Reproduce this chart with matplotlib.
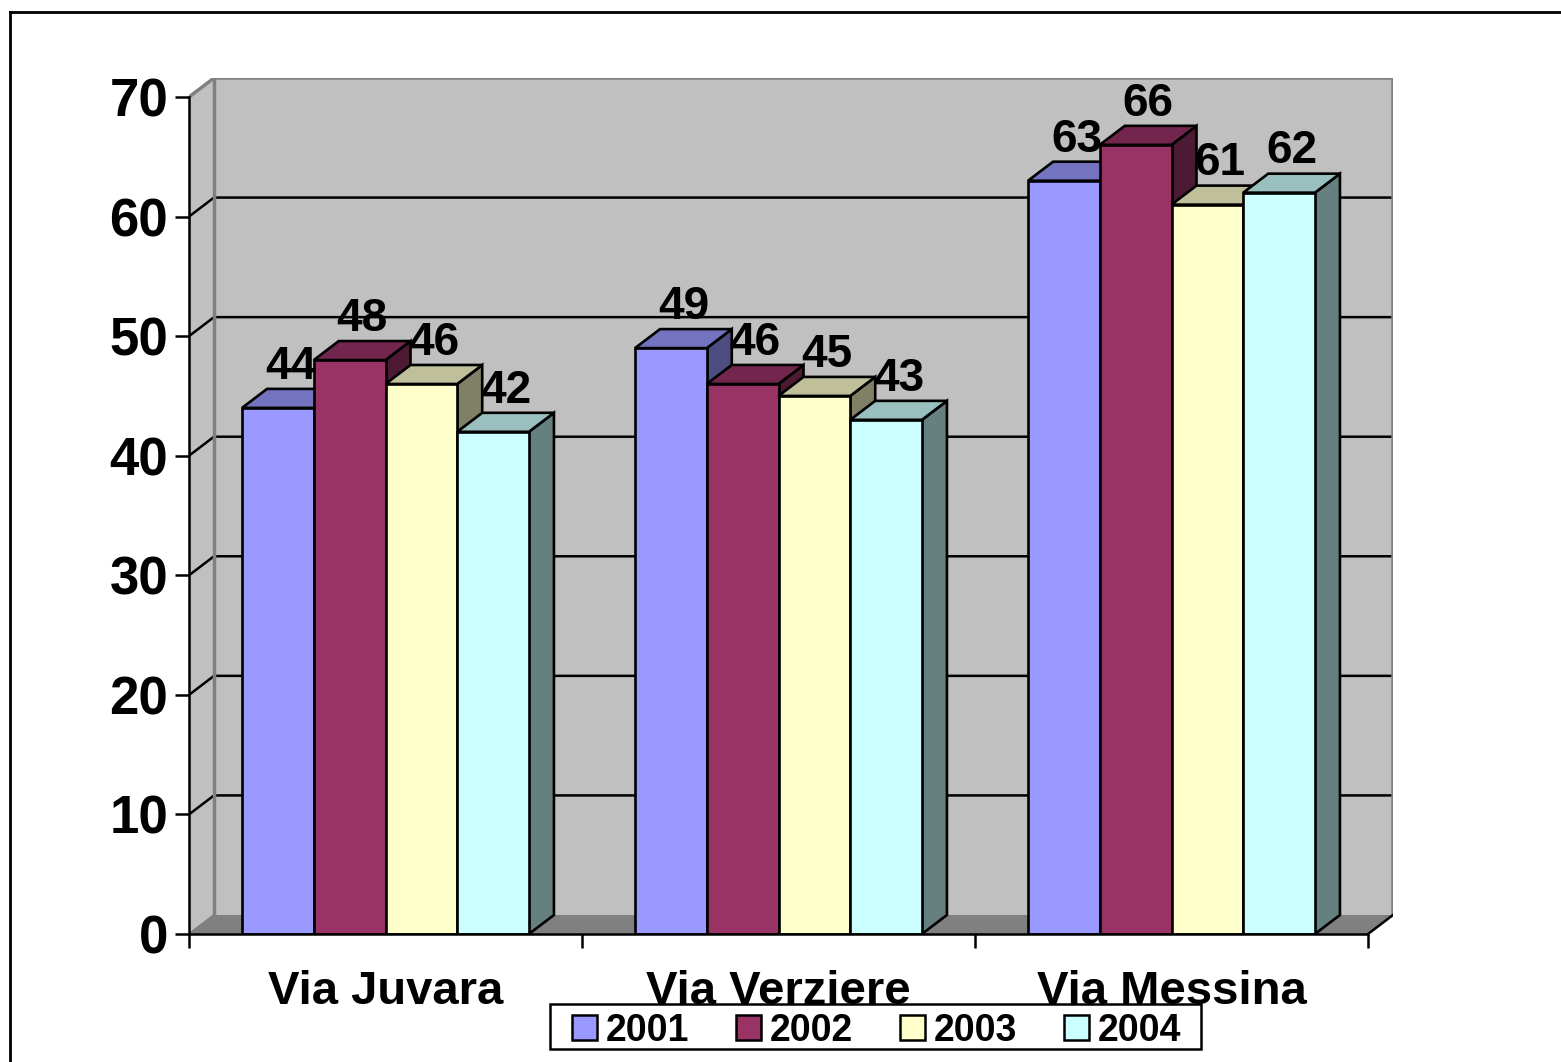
import matplotlib
matplotlib.use("Agg")
import matplotlib.pyplot as plt
from matplotlib.patches import Polygon, Patch, Rectangle
from matplotlib.lines import Line2D
from matplotlib.colors import to_rgb

plt.rcParams['font.family'] = ['Liberation Sans', 'DejaVu Sans']
plt.rcParams['font.weight'] = 'bold'

# data
categories = ['Via Juvara', 'Via Verziere', 'Via Messina']
years = ['2001', '2002', '2003', '2004']
v2001 = [44, 49, 63]
v2002 = [48, 46, 66]
v2003 = [46, 45, 61]
v2004 = [42, 43, 62]
series = [v2001, v2002, v2003, v2004]
colors = ['#9999FF', '#993366', '#FFFFCC', '#CCFFFF']

ymax = 70
# depth of the 3d box, in data units
DX = 25 / 393.0
DY = 19 / 11.957
BAR_W = 0.1825

W, H = 1561, 1062
fig = plt.figure(figsize=(W / 100, H / 100), dpi=100)
ax = fig.add_axes([189 / W, 128 / H, 1204 / W, 856 / H])
ax.set_xlim(0, len(categories) + DX)
ax.set_ylim(0, ymax + DY)
ax.patch.set_visible(False)

ncat = len(categories)
wall = '#C0C0C0'
edge = '#808080'

# side wall, back wall and floor
ax.add_patch(Polygon([(0, 0), (DX, DY), (DX, ymax + DY), (0, ymax)],
                     closed=True, facecolor=wall, edgecolor='none', zorder=0))
ax.add_patch(Polygon([(DX, DY), (ncat + DX, DY), (ncat + DX, ymax + DY), (DX, ymax + DY)],
                     closed=True, facecolor=wall, edgecolor='none', zorder=0))
ax.add_patch(Polygon([(0, 0), (ncat, 0), (ncat + DX, DY), (DX, DY)],
                     closed=True, facecolor='#808080', edgecolor='none', zorder=0))

# gridlines on the walls
for v in range(10, ymax, 10):
    ax.plot([0, DX, ncat + DX], [v, v + DY, v + DY], color='black', lw=1.8, zorder=1)

# wall edges
ax.plot([0, DX, ncat + DX, ncat + DX], [ymax, ymax + DY, ymax + DY, DY], color=edge, lw=2.5, zorder=1)
ax.plot([DX, DX], [DY, ymax + DY], color=edge, lw=2.5, zorder=1)
ax.plot([0, DX], [0, DY], color=edge, lw=1.5, zorder=1)
ax.plot([ncat, ncat + DX], [0, DY], color='black', lw=1.8, zorder=1)


def shade(c, f):
    r, g, b = to_rgb(c)
    return (r * f, g * f, b * f)


z = 2
for i in range(ncat):
    for j, vals in enumerate(series):
        v = vals[i]
        x0 = i + 0.5 + (j - 2) * BAR_W
        x1 = x0 + BAR_W
        c = colors[j]
        kw = dict(closed=True, edgecolor='black', lw=1.9, joinstyle='miter', zorder=z)
        # side face
        ax.add_patch(Polygon([(x1, 0), (x1 + DX, DY), (x1 + DX, v + DY), (x1, v)],
                             facecolor=shade(c, 0.5), **kw))
        # top face
        ax.add_patch(Polygon([(x0, v), (x1, v), (x1 + DX, v + DY), (x0 + DX, v + DY)],
                             facecolor=shade(c, 0.75), **kw))
        # front face
        ax.add_patch(Polygon([(x0, 0), (x1, 0), (x1, v), (x0, v)],
                             facecolor=c, **kw))
        z += 1
        ax.text((x0 + x1) / 2 + DX / 2, v + DY + 0.85, str(v), ha='center', va='baseline',
                fontsize=33, fontweight='bold', zorder=100)

# axes
for s in ['top', 'right']:
    ax.spines[s].set_visible(False)
ax.spines['left'].set_bounds(0, ymax)
ax.spines['bottom'].set_bounds(0, ncat)
ax.spines['left'].set_linewidth(1.8)
ax.spines['bottom'].set_linewidth(1.8)
ax.spines['left'].set_zorder(50)
ax.spines['bottom'].set_zorder(50)

ax.set_yticks(range(0, ymax + 1, 10))
ax.tick_params(axis='y', length=10, width=1.8, pad=5, labelsize=38)
for t in ax.get_yticklabels():
    t.set_fontweight('bold')

ax.set_xticks(range(ncat + 1))
ax.set_xticklabels([])
ax.set_xticks([i + 0.5 for i in range(ncat)], minor=True)
ax.set_xticklabels(categories, minor=True, fontsize=34, fontweight='bold')
ax.tick_params(axis='x', which='major', length=10, width=1.8)
ax.tick_params(axis='x', which='minor', length=0, pad=26)

# legend box and entries
fig.add_artist(Rectangle((550 / W, 1 - 1049 / H), 651 / W, 45 / H, transform=fig.transFigure,
                         facecolor='white', edgecolor='black', lw=1.8, zorder=4))
handles = [Patch(facecolor=c, edgecolor='black', lw=1.8) for c in colors]
leg = fig.legend(handles, years, loc='center', bbox_to_anchor=(877 / W, 1 - 1031 / H),
                 ncol=4, prop={'size': 27, 'weight': 'bold'}, frameon=False,
                 handlelength=0.65, handleheight=0.65,
                 handletextpad=0.25, columnspacing=1.25, borderpad=0.1, borderaxespad=0)
leg.set_zorder(5)

# outer frame
fig.add_artist(Line2D([10 / W, 1], [1 - 12 / H, 1 - 12 / H], color='black', lw=2, transform=fig.transFigure))
fig.add_artist(Line2D([10 / W, 10 / W], [1 - 12 / H, 0], color='black', lw=2, transform=fig.transFigure))

fig.savefig('out.png', dpi=100, facecolor='white')
